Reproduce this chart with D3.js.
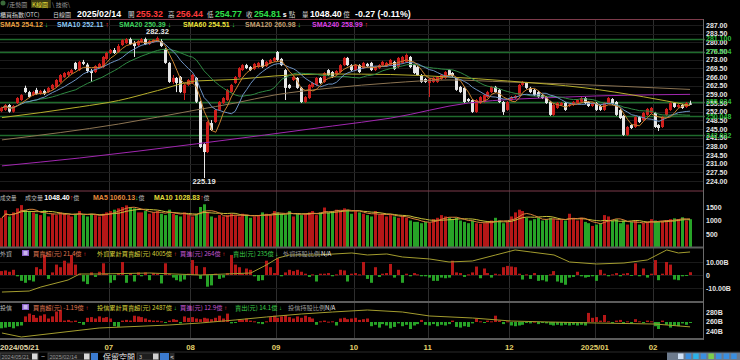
<!DOCTYPE html>
<html><head><meta charset="utf-8">
<script src="https://cdn.jsdelivr.net/npm/d3@7/dist/d3.min.js"></script>
<style>
html,body{margin:0;padding:0;background:#000;overflow:hidden;}
svg{display:block;}
</style></head>
<body>
<svg id="chart" width="740" height="360"></svg>
<script>
// ================= DATA =================
const openP = [252.2,252.7,254.7,252.0,255.5,256.7,261.6,259.9,258.7,260.8,
259.2,260.4,259.9,261.2,262.0,264.0,266.0,266.8,267.6,271.7,
268.8,272.1,271.0,268.4,268.0,270.0,270.0,273.3,275.7,276.9,
276.1,278.9,279.7,281.3,279.7,278.9,280.1,281.3,279.3,280.1,
280.5,280.5,277.3,271.7,264.0,265.6,266.0,259.5,262.8,263.6,
265.6,256.0,238.9,235.7,247.4,247.8,252.7,255.5,256.7,260.0,
263.6,266.0,268.8,270.8,270.0,269.2,270.0,272.9,270.4,271.7,
272.5,276.1,273.3,268.8,262.8,264.8,265.6,261.6,255.9,257.5,
262.0,262.8,265.6,264.0,268.8,268.0,267.2,268.0,270.8,273.7,
270.8,268.8,270.8,269.6,271.3,271.7,268.8,269.6,270.8,270.4,
270.8,272.1,270.0,271.7,272.1,274.1,270.8,270.0,266.8,265.2,
263.6,264.0,264.0,265.2,265.6,268.8,267.6,265.6,262.0,261.6,
257.1,256.7,251.9,255.5,256.0,257.9,259.9,262.0,260.8,255.9,
252.7,256.7,257.5,258.7,262.8,263.6,261.6,260.8,259.9,258.7,
257.9,256.0,250.7,253.5,254.7,255.5,254.3,254.7,255.5,256.0,
257.5,255.9,254.3,255.5,254.3,252.7,255.5,257.1,255.9,252.7,
250.3,242.6,246.6,245.8,249.8,248.6,250.7,251.5,251.5,246.6,
245.8,250.7,252.7,255.5,253.9,254.7,253.9,255.32];
const highP = [254.0,255.1,255.1,254.7,257.9,259.1,262.5,260.4,260.4,261.6,
260.8,261.0,262.0,263.2,265.2,267.2,268.0,268.4,269.2,272.1,
272.5,272.9,271.7,269.2,270.8,271.7,274.5,276.1,277.3,277.7,
279.3,281.3,281.7,281.9,280.5,280.9,281.7,281.9,280.9,281.3,
282.32,281.3,277.7,272.1,266.8,266.0,266.4,263.2,265.2,267.2,
266.0,256.4,239.3,248.2,248.6,253.1,256.3,257.9,261.2,263.2,
266.4,270.0,271.2,271.3,270.4,271.7,272.1,273.3,272.5,273.3,
274.1,276.5,273.7,269.2,263.2,266.4,266.0,262.0,258.3,263.2,
264.0,266.0,266.0,268.0,269.2,268.4,268.8,271.2,274.1,274.1,
271.2,271.2,271.2,272.1,271.7,272.1,270.4,271.2,272.5,272.1,
273.3,272.5,274.1,274.5,275.5,274.5,271.2,270.4,267.2,265.6,
265.6,266.0,266.4,267.2,268.4,269.2,268.0,266.0,262.4,262.0,
257.5,257.1,257.1,258.3,259.1,260.4,262.4,262.4,261.2,256.3,
256.3,258.3,258.7,263.2,264.4,264.0,262.0,261.2,260.4,259.1,
258.3,256.4,255.1,255.9,255.9,255.9,255.3,256.3,257.1,257.9,
257.9,256.3,255.9,255.9,254.7,255.9,257.9,257.5,256.3,253.1,
250.7,246.2,247.0,250.2,250.2,251.9,253.5,253.9,251.9,247.0,
250.2,253.5,255.9,255.9,255.1,255.1,255.9,256.44];
const lowP = [251.8,252.3,251.6,251.6,255.1,256.3,259.5,257.5,258.3,258.8,
258.8,258.7,259.5,260.8,261.6,263.6,265.6,266.4,267.2,268.8,
268.4,270.8,267.6,264.0,267.6,269.6,269.6,272.9,275.3,275.3,
275.7,278.5,279.3,278.9,274.1,278.5,279.7,278.9,278.9,279.7,
280.1,278.1,271.3,263.6,263.2,259.9,259.5,256.7,262.4,263.2,
255.5,237.3,225.19,235.3,244.2,247.4,252.3,255.1,256.3,259.6,
263.2,265.6,268.4,269.2,268.4,268.8,269.6,269.6,270.0,271.3,
272.1,272.5,270.4,256.7,261.2,264.4,261.2,255.5,255.5,257.1,
261.6,262.4,263.2,263.6,266.4,265.6,266.8,267.6,270.4,270.4,
268.4,268.4,267.6,269.2,270.0,268.4,268.4,269.2,270.4,270.0,
270.4,268.8,269.6,271.3,271.7,269.6,267.2,266.4,263.6,263.6,
257.9,263.6,263.6,264.8,265.2,266.4,266.0,260.4,259.5,255.5,
255.9,251.5,251.5,255.1,255.6,257.5,259.5,259.5,255.5,250.7,
252.3,256.3,257.1,258.3,262.4,261.2,259.5,258.3,257.5,257.1,
255.1,250.3,250.3,253.1,254.3,252.3,253.9,254.3,255.1,255.6,
255.1,253.9,253.9,252.3,252.3,252.3,255.1,254.7,250.3,249.0,
242.2,242.2,245.0,245.4,247.4,248.2,250.3,251.1,245.4,244.2,
245.4,250.3,252.3,253.5,253.5,253.1,253.5,254.77];
const closeP = [253.6,254.7,252.0,254.3,257.5,258.7,259.9,257.9,259.9,259.2,
260.4,259.2,261.6,262.8,264.8,266.8,267.6,268.0,268.8,269.2,
272.1,271.3,268.4,267.6,270.4,271.3,274.1,275.7,276.9,275.7,
278.5,280.9,281.3,279.3,278.5,280.5,281.3,279.3,280.5,281.0,
281.7,278.5,271.7,264.0,265.6,263.6,259.9,262.8,264.8,266.8,
256.0,237.7,235.7,247.8,244.6,252.7,255.9,257.5,260.8,262.8,
266.0,269.6,270.8,269.6,268.8,271.3,271.7,270.0,272.1,272.9,
273.7,272.9,270.8,261.6,261.6,266.0,261.6,255.9,257.9,262.8,
263.6,265.6,263.6,267.6,266.8,266.0,268.4,270.8,273.7,270.8,
268.8,270.8,268.0,271.7,270.4,268.8,270.0,270.8,272.1,271.7,
272.9,269.2,273.7,274.1,274.9,270.0,267.6,266.8,264.0,264.0,
265.2,265.6,266.0,266.8,268.0,266.8,266.4,260.8,259.9,255.9,
256.3,251.9,256.7,257.9,258.7,259.9,262.0,259.9,255.9,251.9,
255.9,257.9,258.3,262.8,264.0,261.6,259.9,258.7,257.9,257.5,
255.5,250.7,254.7,255.5,255.5,252.7,254.9,255.9,256.7,257.5,
255.5,254.3,255.5,252.7,252.7,255.5,257.5,255.1,250.7,249.4,
242.6,245.8,245.4,249.8,247.8,251.5,253.1,253.5,245.8,245.4,
249.8,253.1,255.5,253.9,254.7,253.5,255.5,254.81];
// volume (億)
const volume = [1100,1380,1150,1300,1450,1570,1400,1350,1300,1250,
1200,1380,1150,1250,1200,1300,1250,1200,1150,1250,
1350,1200,1150,1250,1200,1150,1250,1300,1350,1400,
1450,1500,1560,1500,1450,1300,1300,1350,1250,1300,
1350,1250,1200,1400,1250,1200,1150,1300,1200,1150,
1250,1500,1600,1300,1150,1100,1200,1150,1200,1250,
1200,1150,1250,1200,1100,1150,1200,1300,1250,1200,
1350,1300,1250,1200,1350,1150,1250,1200,1250,1300,
1350,1200,1300,1480,1300,1350,1400,1350,1450,1400,
1250,1350,1300,1250,1200,1150,1350,1200,1250,1150,
1200,1150,1100,1150,1100,1000,950,950,900,950,
920,1050,1100,1200,1150,1100,1050,1100,1000,950,
900,1000,900,880,900,920,1000,1100,1000,900,
950,1150,1300,1400,1350,1100,1000,1050,1100,1000,
1050,1100,1050,1000,1020,1000,1250,1100,1000,1100,
950,900,800,850,900,1200,1150,1000,1050,900,
1000,850,950,1000,850,900,950,1050,1000,950,
980,1010,1050,1080,1050,1120,1000,1048.4];
// foreign investors net buy (億)
const foreignNet = [30,35,25,40,-10,-45,-60,-40,-50,60,
45,154,-30,20,80,60,110,90,154,80,
10,-50,-70,20,-15,25,90,10,-60,-40,
15,100,-60,15,-50,20,-10,20,-40,15,
10,-65,90,10,-20,-40,-50,-35,10,115,
70,-30,60,-90,-80,10,-30,-20,15,154,
80,60,10,50,40,-10,-45,-40,110,60,
15,130,-10,20,40,30,40,25,10,-15,
5,-50,10,10,15,-10,5,40,35,-50,
10,15,5,100,-30,-60,60,-15,10,15,
85,-20,40,-60,10,-10,15,5,-10,-10,
-20,-45,-45,-20,-25,-20,110,20,15,-15,
5,20,65,-25,50,15,-20,10,5,60,
70,65,60,10,-35,5,-30,15,-45,-40,
-50,5,30,-50,-60,-75,-20,-15,25,-10,
-20,-15,-10,-45,40,10,-10,5,15,-10,
10,15,-5,90,-10,50,-20,10,115,-40,
10,100,80,-35,-40,-10,-5,21.4];
// investment trust net buy (億)
const trustNet = [-9,-8,-7,-9,-6,-5,8,12,10,6,
9,11,5,8,15,17,2,3,1,2,
-1,-4,6,7,5,8,6,7,5,-6,
-7,2,3,2,9,8,7,5,3,2,
2,1,-1,2,4,3,-2,8,6,7,
5,4,6,5,4,6,9,5,12,-2,
-1,4,3,5,2,1,-2,-3,1,7,
9,6,8,10,7,5,8,6,9,7,
5,-4,1,2,0.5,1,-5,5,6,4,
5,6,3,4,5,-6,-4,-8,-3,-5,
-9,-7,-2,-6,-4,-10,-5,-3,3,-4,
-5,-3,-6,-4,-5,-3,2,-7,-8,-6,
-7,-2,5,1,-1,2,1,9,2,-3,
1,-5,-6,-5,-4,-1,-2,0.5,-3,-1,
-2,-4,-5,-4,-5,-4,-5,-4,-5,-4,
-5,13,6,7,2,10,1,-1,2,3,
-1,1,-2,4,1,-1,2,1,-6,-10,
2,-4,-8,-5,-6,-2,-4,-1.19];
// cumulative lines, sampled [dayIndex, value 億]
const foreignCum = [[0,2805],[7,2835],[10,2955],[17,3165],[20,3345],[25,3345],[38,3375],[51,3315],[64,3375],[68,3615],[71,3825],[74,3915],[81,3915],[90,3975],[94,3915],[99,3945],[103,3855],[110,3795],[115,3705],[121,3735],[127,3915],[132,4065],[136,4005],[142,3915],[146,3705],[153,3645],[160,3675],[166,3765],[168,3885],[171,4065],[174,3975],[177,4005]];
const trustCum = [[0,2358],[5,2274],[25,2463],[43,2526],[51,2568],[60,2632],[68,2695],[77,2758],[85,2800],[94,2842],[103,2800],[110,2716],[121,2674],[131,2610],[141,2589],[153,2568],[168,2547],[177,2487]];
const sma60 = [[0,249.6],[20,253.9],[30,256.5],[40,260.5],[50,264.4],[60,265.0],[70,266.4],[85,267.2],[100,267.0],[115,266.0],[130,264.4],[150,261.6],[165,258.0],[177,254.51]];
const sma120 = [[0,240.6],[30,247.0],[50,252.7],[60,255.5],[70,258.7],[85,261.6],[100,263.6],[115,264.8],[130,264.0],[145,263.2],[160,262.2],[177,260.98]];
const sma240 = [[0,230.1],[20,233.3],[50,239.0],[85,246.2],[100,249.4],[120,255.5],[145,257.9],[177,258.99]];
const priceTicks = [287,283.5,280,276.5,273,269.5,266,262.5,259,255.5,252,248.5,245,241.5,238,234.5,231,227.5,224];
const keyLevels = [281.35,276.10,256.08,250.25,242.40];
const keyLabels = ["281.100","275.604","255.924","250.048","242.032"];
const volTicks = [1500,1000,500];
const foreignTicks = [100,0,-100];
const foreignTickLabels = ["10.00B","0","-10.00B"];
const trustTicks = [2800,2600,2400];
const trustTickLabels = ["280B","260B","240B"];
const monthIdx = [28,49,71,91,110,131,153,168];
const monthLabels = ["07","08","09","10","11","12","2025/01","02"];

// ================= DRAW =================
const svg = d3.select("#chart");
const NUM = "'Liberation Sans', Arial, sans-serif";
const CJK = "'Noto Sans CJK TC', 'Noto Sans CJK SC', sans-serif";
const N = closeP.length;
const PR = 703; // right edge of plotting frame
const x = d3.scaleLinear().domain([-0.5, 177.5]).range([0, 692]);
const yP = d3.scaleLinear().domain([224, 287]).range([181, 25]);
const yV = d3.scaleLinear().domain([0, 1500]).range([247.5, 207]);
const yF = d3.scaleLinear().domain([-100, 100]).range([288, 262]);
const yFC = d3.scaleLinear().domain([2800, 4100]).range([292.2, 248.8]);
const yT = d3.scaleLinear().domain([-20, 20]).range([336, 308]);
const yTC = d3.scaleLinear().domain([2400, 2800]).range([331, 312]);

const UP = "#cf1f1c", DOWN = "#e6e6e6", BUYBAR = "#b51717", SELLBAR = "#27a327";
const isUp = i => closeP[i] >= openP[i];

svg.append("rect").attr("width",740).attr("height",360).attr("fill","#000");

function T(px, py, s, fill, size, o = {}) {
  return svg.append("text").attr("x", px).attr("y", py).text(s)
    .attr("fill", fill).attr("font-size", size)
    .attr("font-family", o.f || NUM).attr("font-weight", o.w || "bold")
    .attr("text-anchor", o.a || "start");
}
// one text element made of several coloured runs: [text, colour, family, weight, size]
function rich(px, py, parts, size) {
  const t = svg.append("text").attr("x", px).attr("y", py).attr("font-size", size);
  parts.forEach(p => {
    const s = t.append("tspan").text(p[0]).attr("fill", p[1])
      .attr("font-family", p[2] || CJK).attr("font-weight", p[3] || "normal");
    if (p[4]) s.attr("font-size", p[4]);
  });
  return t;
}

// vertical month grid
const gx = i => Math.round(x(i - 0.5)) + 0.5;
svg.append("g").selectAll("line").data(monthIdx).join("line")
  .attr("x1", gx).attr("x2", gx).attr("y1", 19).attr("y2", 339)
  .attr("stroke", "#2e2e2e").attr("stroke-width", 1);

// main horizontal grid
svg.append("g").selectAll("line").data(priceTicks).join("line")
  .attr("x1", 0).attr("x2", PR).attr("y1", d => Math.round(yP(d)) + 0.5).attr("y2", d => Math.round(yP(d)) + 0.5)
  .attr("stroke", "#1c1c1c");
// key levels (green)
svg.append("g").selectAll("line").data(keyLevels).join("line")
  .attr("x1", 0).attr("x2", PR + 2).attr("y1", d => Math.round(yP(d)) + 0.5).attr("y2", d => Math.round(yP(d)) + 0.5)
  .attr("stroke", "#1f6b2c").attr("stroke-width", 1.4);

// foreign panel grid
svg.append("g").selectAll("line").data(foreignTicks).join("line")
  .attr("x1", 0).attr("x2", PR).attr("y1", d => Math.round(yF(d)) + 0.5).attr("y2", d => Math.round(yF(d)) + 0.5)
  .attr("stroke", "#1a1a1a");

// candles
const cg = svg.append("g");
d3.range(N).forEach(i => {
  const cx = Math.round(x(i) - 1.5);
  const col = isUp(i) ? UP : DOWN;
  cg.append("line").attr("x1", cx + 1.5).attr("x2", cx + 1.5)
    .attr("y1", yP(highP[i])).attr("y2", yP(lowP[i])).attr("stroke", col).attr("stroke-width", 1);
  const y1 = yP(Math.max(openP[i], closeP[i])), y2 = yP(Math.min(openP[i], closeP[i]));
  cg.append("rect").attr("x", cx).attr("width", 3).attr("y", y1).attr("height", Math.max(1, y2 - y1)).attr("fill", col);
});

// moving averages
const sma = (arr, n) => arr.map((v, i) => d3.mean(arr.slice(Math.max(0, i - n + 1), i + 1)));
const lineIdx = (yS) => d3.line().x((d, i) => x(i)).y(d => yS(d));
const linePts = (yS) => d3.line().x(d => x(d[0])).y(d => yS(d[1])).curve(d3.curveMonotoneX);
function path(d, gen, color, w = 1) {
  svg.append("path").attr("d", gen(d)).attr("fill", "none").attr("stroke", color).attr("stroke-width", w);
}
path(sma240, linePts(yP), "#a127b0");
path(sma120, linePts(yP), "#8c7452");
path(sma60, linePts(yP), "#b6ae2c");
path(sma(closeP, 20), lineIdx(yP), "#2f8a43");
path(sma(closeP, 10), lineIdx(yP), "#6d93c4");
path(sma(closeP, 5), lineIdx(yP), "#c9822f");

// hi / lo labels
const hiI = d3.maxIndex(highP), loI = d3.minIndex(lowP);
T(x(hiI), yP(highP[hiI]) - 3, highP[hiI].toFixed(2), "#e8e8e8", 7.5, { a: "middle" });
T(x(loI), yP(lowP[loI]) + 6, lowP[loI].toFixed(2), "#e8e8e8", 7.5, { a: "middle" });

// volume bars
svg.append("g").selectAll("rect").data(volume).join("rect")
  .attr("x", (d, i) => Math.round(x(i) - 1.5)).attr("width", 3)
  .attr("y", d => yV(d)).attr("height", d => yV(0) - yV(d))
  .attr("fill", (d, i) => isUp(i) ? BUYBAR : SELLBAR);
path(sma(volume, 10), lineIdx(yV), "#c9c23a");
path(sma(volume, 5), lineIdx(yV), "#d9823a");

// foreign bars
svg.append("g").selectAll("rect").data(foreignNet).join("rect")
  .attr("x", (d, i) => Math.round(x(i) - 1.5)).attr("width", 3)
  .attr("y", d => Math.min(yF(d), yF(0))).attr("height", d => Math.max(1, Math.abs(yF(d) - yF(0))))
  .attr("fill", d => d >= 0 ? BUYBAR : SELLBAR);
path(foreignCum, d3.line().x(d => x(d[0])).y(d => yFC(d[1])), "#a39c2e");

// trust bars
svg.append("g").selectAll("rect").data(trustNet).join("rect")
  .attr("x", (d, i) => Math.round(x(i) - 1.5)).attr("width", 3)
  .attr("y", d => Math.min(yT(d), yT(0))).attr("height", d => Math.max(1, Math.abs(yT(d) - yT(0))))
  .attr("fill", d => d >= 0 ? BUYBAR : SELLBAR);
path(trustCum, d3.line().x(d => x(d[0])).y(d => yTC(d[1])), "#a39c2e");

// frames / separators
svg.append("rect").attr("x", -1).attr("y", 19.5).attr("width", PR + 1.5).attr("height", 171.5)
  .attr("fill", "none").attr("stroke", "#7d3b4b").attr("stroke-width", 1);
[[247.5, 2], [302, 2], [339, 2]].forEach(([yy, w]) =>
  svg.append("line").attr("x1", 0).attr("x2", PR).attr("y1", yy).attr("y2", yy).attr("stroke", "#5c5c5c").attr("stroke-width", w));
svg.append("line").attr("x1", PR + 0.5).attr("x2", PR + 0.5).attr("y1", 19).attr("y2", 340).attr("stroke", "#6a6a6a");

// right axes
priceTicks.forEach(v => T(706, yP(v) + 2.5, v.toFixed(2), "#e4e4e4", 7));
keyLevels.forEach((v, k) => T(706, yP(v) + 2.5, keyLabels[k], "#2fbf3f", 7));
volTicks.forEach(v => T(706, yV(v) + 2.5, String(v), "#e4e4e4", 7));
foreignTicks.forEach((v, k) => T(706, yF(v) + 2.5, foreignTickLabels[k], "#e4e4e4", 7));
trustTicks.forEach((v, k) => T(706, yTC(v) + 2.5, trustTickLabels[k], "#e4e4e4", 7));

// date axis
T(0, 350, "2024/05/21", "#e2d9a8", 7.8);
monthIdx.forEach((m, k) => T(x(m - 0.5), 350, monthLabels[k], "#e2d06a", 7.8, { a: "middle" }));

// ---------- header rows ----------
svg.append("circle").attr("cx", 3).attr("cy", 3).attr("r", 2.5).attr("fill", "#3a6a3a");
rich(7, 6.5, [["/走勢圖 ", "#9a9a9a"]], 6);
svg.append("rect").attr("x", 31).attr("y", 0).attr("width", 20).attr("height", 8).attr("fill", "#3b3a12");
rich(32, 6.5, [["K線圖", "#e6e03a"]], 6);
rich(52, 6.5, [["\\ 技術\\", "#9a9a9a"]], 6);

rich(0, 16.5, [["櫃買指數(OTC)", "#d8d8d8"]], 6);
rich(53, 16.5, [["日線圖", "#d8d8d8"]], 6);
T(77, 16.5, "2025/02/14", "#ffffff", 8.8);
rich(128, 16.5, [["開 ", "#d8d8d8"], ["255.32", "#ff3b3b", NUM, "bold", 8.8]], 6.5);
rich(168, 16.5, [["高 ", "#d8d8d8"], ["256.44", "#ff3b3b", NUM, "bold", 8.8]], 6.5);
rich(207, 16.5, [["低 ", "#d8d8d8"], ["254.77", "#2ee04a", NUM, "bold", 8.8]], 6.5);
rich(246, 16.5, [["收 ", "#d8d8d8"], ["254.81", "#2ee04a", NUM, "bold", 8.8], [" s ", "#ffffff", NUM, "bold", 7], ["點", "#d8d8d8"]], 6.5);
rich(302, 16.5, [["量 ", "#d8d8d8"], ["1048.40", "#ffffff", NUM, "bold", 8.8], [" 億", "#d8d8d8"]], 6.5);
T(355, 16.5, "-0.27 (-0.11%)", "#ffffff", 8.8);

const smaLegend = [
  [0, "SMA5 254.12", "#eaa040", "↓", "#33d94a"],
  [57, "SMA10 252.11", "#8cc8f4", "↑", "#ff3030"],
  [119, "SMA20 250.39", "#3fd45e", "↓", "#33d94a"],
  [183, "SMA60 254.51", "#ece43c", "↓", "#33d94a"],
  [245, "SMA120 260.98", "#c4a072", "↓", "#33d94a"],
  [312, "SMA240 258.99", "#dc40e6", "↑", "#ff3030"]];
smaLegend.forEach(([px, s, c, a, ac]) => {
  const t = T(px, 27, s, c, 7);
  t.append("tspan").text(" " + a).attr("fill", ac);
});

// volume header (one flowing run per group, no overlaps)
rich(0, 199.5, [["成交量", "#bdbdbd"]], 5.5);
rich(25, 199.5, [["成交量 ", "#bdbdbd"], ["1048.40", "#ffffff", NUM, "bold", 7], ["↑", "#ff3030", NUM, "bold", 7], ["億", "#bdbdbd"]], 6);
rich(93, 199.5, [["MA5 1060.13", "#e48a3c", NUM, "bold", 7], ["↓", "#33d94a", NUM, "bold", 7], ["億", "#bdbdbd"]], 6);
rich(154, 199.5, [["MA10 1028.83", "#e2dc3a", NUM, "bold", 7], ["↑", "#ff3030", NUM, "bold", 7], ["億", "#bdbdbd"]], 6);

function flowHeader(yy, label, items) {
  rich(0, yy, [[label, "#bdbdbd"]], 6);
  svg.append("rect").attr("x", 22).attr("y", yy - 5.5).attr("width", 7).attr("height", 6).attr("fill", "#8a62c8");
  svg.append("rect").attr("x", 23.5).attr("y", yy - 4.5).attr("width", 4).attr("height", 4).attr("fill", "#c9b4ee");
  items.forEach(([px, s, c, a, ac]) => {
    const parts = [[s, c]];
    if (a) parts.push([" " + a, ac, NUM, "bold"]);
    rich(px, yy, parts, 6.2);
  });
}
flowHeader(255.5, "外資", [
  [33, "買賣超(元) 21.4億", "#e07a52", "↑", "#ff3030"],
  [97, "外資累計買賣超(元) 4005億", "#d9d23c", "↑", "#ff3030"],
  [180, "買進(元) 264億", "#c257d0", "↑", "#ff3030"],
  [233, "賣出(元) 235億", "#3ccf4a", "↓", "#33d94a"],
  [283, "外資持股比例", "#9a9a9a"],
  [321, "N/A", "#e8e8e8"]]);
flowHeader(309.5, "投信", [
  [33, "買賣超(元) -1.19億", "#e07a52", "↑", "#ff3030"],
  [97, "投信累計買賣超(元) 2487億", "#d9d23c", "↓", "#33d94a"],
  [180, "買進(元) 12.9億", "#c257d0", "↑", "#ff3030"],
  [235, "賣出(元) 14.1億", "#3ccf4a", "↓", "#33d94a"],
  [288, "投信持股比例", "#9a9a9a"],
  [325, "N/A", "#e8e8e8"]]);

// ---------- bottom controls ----------
svg.append("line").attr("x1", 0).attr("x2", 740).attr("y1", 352).attr("y2", 352).attr("stroke", "#2a2a2a");
function box(px, w, label) {
  svg.append("rect").attr("x", px).attr("y", 353).attr("width", w).attr("height", 7).attr("fill", "#1e1e1e").attr("stroke", "#5a5a5a").attr("stroke-width", 0.6);
  T(px + 1.5, 359, label, "#9a9a9a", 5.5, { w: "normal" });
  svg.append("rect").attr("x", px + w - 6).attr("y", 353.5).attr("width", 5.5).attr("height", 6).attr("fill", "#d8d8d8");
}
box(0, 38, "2024/05/21");
T(41, 359, "~", "#bdbdbd", 7, { w: "normal" });
box(48, 42, "2025/02/14");
svg.append("rect").attr("x", 91).attr("y", 353).attr("width", 7).attr("height", 7).attr("fill", "#3b7bd0");
rich(103, 359.5, [["保留空間", "#e8e8e8"]], 8);
svg.append("rect").attr("x", 137).attr("y", 353).attr("width", 22).attr("height", 7).attr("fill", "#1e1e1e").attr("stroke", "#5a5a5a").attr("stroke-width", 0.6);
T(139, 359, "3", "#bdbdbd", 5.5, { w: "normal" });
svg.append("rect").attr("x", 153).attr("y", 353.5).attr("width", 5.5).attr("height", 6).attr("fill", "#cfcfcf");
svg.append("rect").attr("x", 160).attr("y", 353).attr("width", 9).attr("height", 7).attr("fill", "#3b7bd0");
svg.append("rect").attr("x", 169.5).attr("y", 353).attr("width", 5).attr("height", 7).attr("fill", "#2a2a2a");
T(172, 359, "<", "#cfcfcf", 6, { a: "middle" });
// right tool icons
svg.append("rect").attr("x", 667).attr("y", 352.5).attr("width", 73).attr("height", 7.5).attr("fill", "#6c7a8c");
["#cfe0f4", "#3a8fe0", "#2bb3e8", "#3a8fe0", "#7ccf4a", "#3a8fe0", "#3a8fe0", "#3a8fe0"].forEach((c, k) =>
  svg.append("rect").attr("x", 678 + k * 7.6).attr("y", 353.5).attr("width", 5.5).attr("height", 5.5).attr("fill", c));
</script>
</body></html>
